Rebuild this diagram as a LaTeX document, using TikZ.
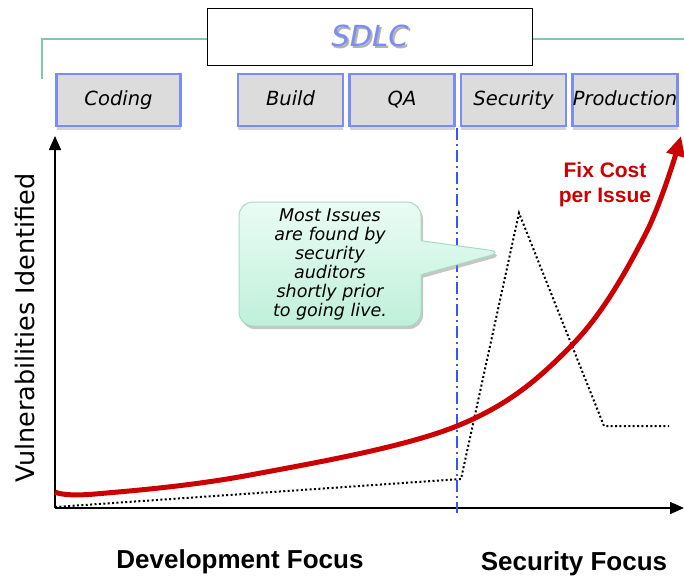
\documentclass[tikz,border=0pt]{standalone}
\usepackage{fontspec}
\newfontfamily\verd{DejaVu Sans}
\newfontfamily\arl{Liberation Sans}
\usepackage{xcolor}
\usetikzlibrary{positioning, shapes.callouts, shadows, arrows.meta}
\definecolor{phaseblue}{HTML}{7B8CF5}
\definecolor{phasegray}{HTML}{DCDCDC}
\definecolor{bracegreen}{HTML}{7FC8A9}
\definecolor{costred}{HTML}{CC0000}
\definecolor{cutblue}{HTML}{3355FF}
\definecolor{minttop}{HTML}{EAFCF4}
\definecolor{mintbot}{HTML}{BFF0DA}
\definecolor{mintline}{HTML}{A6DCC2}

\begin{document}
\begin{tikzpicture}[x=1pt, y=-1pt, >=Stealth,
    phase/.style={draw=phaseblue, line width=2.5pt, fill=phasegray, minimum height=52pt,
      minimum width=105pt, inner sep=0pt, text height=15pt, text depth=4pt,
      font=\verd\itshape\fontsize{19.5}{22}\selectfont,
      drop shadow={opacity=0.35, shadow xshift=0pt, shadow yshift=-4pt}},
    axis/.style={line width=1.6pt, -{Triangle[length=14pt, width=12pt]}},
    focus/.style={font=\arl\bfseries\fontsize{26}{28}\selectfont}]
  \useasboundingbox (0,0) rectangle (684,578);

  % SDLC title box with the green bracket
  \node[draw, line width=1.5pt, fill=white, minimum width=325pt, minimum height=57pt,
    font=\verd\itshape\fontsize{29}{30}\selectfont] (sdlc) at (370,37)
    {\makebox[0pt][l]{\hspace{2pt}\raisebox{-2pt}{\color{gray!60}SDLC}}\color{phaseblue}SDLC};
  \coordinate (brleft) at (42,79);
  \coordinate (brright) at (684,39);
  \draw[bracegreen, line width=1.8pt] (brleft) |- (sdlc.west |- brright);
  \draw[bracegreen, line width=1.8pt] (sdlc.east |- brright) -- (brright);

  % Phase boxes
  \node[phase, minimum width=124pt] (coding) at (118.5,100) {Coding};
  \node[phase] (build) at (290.5,100) {Build};
  \node[phase] (qa) [right=4pt of build] {QA};
  \node[phase] (security) [right=4pt of qa] {Security};
  \node[phase] (production) [right=4pt of security] {Production};

  % Axes
  \coordinate (origin) at (55,508);
  \coordinate (ytop) at (55,136);
  \coordinate (xend) at (684,508);
  \draw[axis] (origin) -- (ytop);
  \draw[axis] (origin) -- (xend);
  \node[rotate=90, font=\verd\fontsize{25.5}{27}\selectfont] (ylabel) at (25,328) {Vulnerabilities Identified};

  % Development / security split
  \coordinate (cuttop) at (457,128);
  \coordinate (cutbot) at (457,513);
  \draw[cutblue, line width=1.5pt, dash pattern=on 12pt off 4pt on 2pt off 4pt] (cuttop) -- (cutbot);

  % Vulnerabilities found
  \draw[line width=2pt, dash pattern=on 2pt off 2.4pt]
    (55,507) -- (461,479) -- (519,213) -- (604,426) -- (669,426);

  % Fix cost per issue
  \draw[costred, line width=5pt, -{Triangle[length=20pt, width=18pt]}]
    plot[smooth, tension=0.6] coordinates {(55,492) (95,494) (250,475) (457,426) (572,345) (645,235) (681,136)};
  \node[text=costred, align=center, font=\arl\bfseries\fontsize{21}{25}\selectfont] (fixcost) at (605,185) {Fix Cost\\per Issue};

  % Callout
  \node[rectangle callout, rounded corners=14pt, draw=mintline, line width=1pt,
    top color=minttop, bottom color=mintbot, minimum width=182pt, minimum height=124pt,
    inner sep=2pt, callout absolute pointer={(503,252)}, callout pointer width=34pt,
    drop shadow={opacity=0.45, shadow xshift=2pt, shadow yshift=-3pt},
    align=center, font=\verd\itshape\fontsize{17.5}{19}\selectfont] (note) at (330,264)
    {Most Issues\\are found by\\security\\auditors\\shortly prior\\to going live.};

  % Focus labels
  \node[focus] (devfocus) at (240,562) {Development Focus};
  \node[focus] (secfocus) at (574,564) {Security Focus};
\end{tikzpicture}
\end{document}
